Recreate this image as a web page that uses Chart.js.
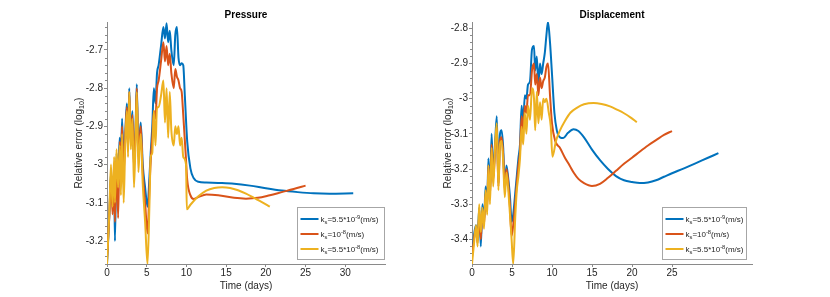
<!DOCTYPE html>
<html>
<head>
<meta charset="utf-8">
<script src="https://cdn.jsdelivr.net/npm/chart.js@4.4.0/dist/chart.umd.min.js"></script>
<style>
  html, body { margin: 0; padding: 0; background: #fff; }
  #wrap { position: relative; width: 830px; height: 297px; }
  canvas { position: absolute; top: 0; }
  #pressure { left: 0; }
  #displacement { left: 415px; }
</style>
</head>
<body>
<div id="wrap">
  <canvas id="pressure" width="415" height="297"></canvas>
  <canvas id="displacement" width="415" height="297"></canvas>
</div>
<script>
// ---- Pressure (left panel) ----
var pressureNoiseTime = [0, 0.3, 0.5, 0.7, 0.9, 1.0, 1.2, 1.4, 1.6, 1.75, 1.9, 2.1, 2.3, 2.5, 2.65, 2.8, 3.0, 3.2, 3.4, 3.6,
    3.75, 3.95, 4.1, 4.25, 4.5, 4.8, 5.1, 5.35, 5.5, 5.7, 5.9, 6.1, 6.3, 6.5, 6.8, 7.1, 7.3, 7.5, 7.7, 7.9,
    8.1, 8.4, 8.6, 8.8, 9.0, 9.2, 9.4, 9.6];

var pressureBlueNoise = [-3.26, -3.13, -3.02, -3.10, -3.04, -3.20, -2.97, -3.03, -2.93, -2.99, -2.88, -3.00, -2.92, -2.84, -2.95, -2.80, -2.93, -2.86, -3.00, -2.90,
    -2.79, -2.97, -2.93, -2.89, -3.00, -3.06, -3.11, -3.03, -2.97, -2.90, -2.80, -2.84, -2.76, -2.74, -2.69, -2.64, -2.67, -2.63, -2.68, -2.65,
    -2.70, -2.74, -2.66, -2.64, -2.72, -2.74, -2.735, -2.74];
var pressureBlueTailTime = [9.8, 10.1, 10.5, 10.9, 11.5, 12.5, 14, 16, 18, 20, 22, 24, 26, 28, 31];
var pressureBlueTail = [-2.82, -2.94, -3.01, -3.035, -3.045, -3.047, -3.048, -3.05, -3.055, -3.062, -3.068, -3.072, -3.075, -3.076, -3.075];

var pressureOrangeNoise = [-3.25, -3.13, -3.03, -3.13, -3.05, -3.15, -2.98, -3.14, -2.94, -3.00, -2.90, -3.02, -2.93, -2.85, -2.96, -2.81, -2.94, -2.87, -3.01, -2.91,
    -2.80, -2.98, -2.94, -2.90, -3.02, -3.10, -3.18, -3.06, -2.99, -2.93, -2.86, -2.88, -2.80, -2.78, -2.73, -2.68, -2.73, -2.69, -2.74, -2.71,
    -2.76, -2.80, -2.75, -2.77, -2.78, -2.80, -2.81, -2.87];
var pressureOrangeTailTime = [9.9, 10.1, 10.5, 10.9, 11.5, 12.5, 14, 16, 17.5, 19, 20.5, 22, 23.5, 25];
var pressureOrangeTail = [-2.97, -3.04, -3.08, -3.09, -3.085, -3.078, -3.08, -3.087, -3.089, -3.087, -3.08, -3.072, -3.064, -3.055];

var pressureYellowNoise = [-3.26, -3.12, -3.00, -3.11, -2.98, -3.10, -2.96, -3.06, -2.95, -3.08, -2.92, -3.10, -2.94, -2.86, -2.98, -2.81, -2.96, -2.88, -3.06, -2.93,
    -2.81, -3.02, -2.96, -2.92, -3.05, -3.15, -3.26, -3.10, -2.98, -2.97, -2.86, -2.95, -2.85, -2.85, -2.82, -2.78, -2.89, -2.80, -2.93, -2.81,
    -2.91, -2.95, -2.90, -2.92, -2.90, -2.95, -2.93, -2.98];
var pressureYellowTailTime = [9.95, 10.05, 10.5, 11.5, 12.5, 13.5, 14.5, 15.5, 16.5, 17.5, 18.5, 19.5, 20.5];
var pressureYellowTail = [-3.0, -3.117, -3.105, -3.083, -3.068, -3.061, -3.059, -3.061, -3.067, -3.076, -3.087, -3.098, -3.11];

var pressureXTicks = [0, 5, 10, 15, 20, 25, 30];
var pressureYTicks = [-3.2, -3.1, -3, -2.9, -2.8, -2.7];

// ---- Displacement (right panel) ----
var dispNoiseTime = [0, 0.3, 0.5, 0.7, 0.9, 1.1, 1.3, 1.5, 1.7, 1.9, 2.05, 2.25, 2.45, 2.65, 2.9, 3.1, 3.3, 3.5, 3.7, 3.9,
    4.1, 4.3, 4.5, 4.75, 4.95, 5.15, 5.4, 5.6, 5.8, 6.0, 6.2, 6.4, 6.6, 6.8, 7.0, 7.25, 7.5, 7.75, 7.9, 8.1,
    8.3, 8.5, 8.7, 8.9, 9.1];

var dispBlueNoise = [-3.44, -3.38, -3.36, -3.40, -3.31, -3.42, -3.30, -3.35, -3.25, -3.30, -3.17, -3.27, -3.10, -3.22, -3.12, -3.05, -3.24, -3.10, -3.09, -3.14,
    -3.25, -3.19, -3.22, -3.28, -3.35, -3.33, -3.27, -3.22, -3.17, -3.13, -3.02, -3.07, -2.99, -3.00, -2.96, -2.95, -2.86, -2.85, -2.92, -2.88,
    -2.96, -2.90, -2.93, -2.90, -2.87];
var dispBlueTailTime = [9.3, 9.5, 9.75, 10.0, 10.3, 10.6, 11.0, 11.4, 12.0, 12.7, 13.3, 14.0, 15.0, 16.0, 17.0, 18.0, 19.0, 20.0, 21.0, 22.0,
    23.0, 24.0, 25.0, 26.5, 28.0, 29.5, 30.8];
var dispBlueTail = [-2.82, -2.782, -2.84, -2.93, -3.04, -3.09, -3.11, -3.112, -3.097, -3.087, -3.092, -3.11, -3.145, -3.175, -3.2, -3.22, -3.232, -3.237, -3.24, -3.238,
    -3.232, -3.222, -3.212, -3.198, -3.183, -3.168, -3.155];

var dispOrangeNoise = [-3.45, -3.39, -3.37, -3.41, -3.33, -3.40, -3.32, -3.36, -3.27, -3.31, -3.19, -3.28, -3.13, -3.23, -3.14, -3.08, -3.25, -3.12, -3.11, -3.16,
    -3.26, -3.20, -3.23, -3.31, -3.39, -3.36, -3.30, -3.24, -3.19, -3.15, -3.05, -3.09, -3.02, -3.04, -2.99, -2.99, -2.92, -2.90, -2.96, -2.93,
    -2.99, -2.94, -2.97, -2.95, -2.94];
var dispOrangeTailTime = [9.3, 9.5, 9.75, 10.0, 10.4, 11.0, 11.6, 12.2, 12.7, 13.3, 14.0, 15.0, 16.0, 17.0, 18.0, 19.0, 20.0, 21.0, 22.0, 23.0, 24.0, 25.0];
var dispOrangeTail = [-2.91, -2.90, -2.99, -3.07, -3.12, -3.14, -3.167, -3.19, -3.21, -3.228, -3.24, -3.248, -3.242, -3.225, -3.205, -3.185, -3.168, -3.15, -3.133, -3.118, -3.103, -3.092];

var dispYellowNoise = [-3.47, -3.40, -3.36, -3.42, -3.30, -3.38, -3.31, -3.37, -3.26, -3.33, -3.19, -3.30, -3.14, -3.25, -3.13, -3.07, -3.26, -3.13, -3.12, -3.18,
    -3.28, -3.21, -3.25, -3.33, -3.40, -3.47, -3.34, -3.26, -3.22, -3.17, -3.08, -3.13, -3.04, -3.10, -3.02, -3.06, -2.97, -3.00, -3.09, -2.98,
    -3.07, -3.01, -3.06, -3.00, -3.01];
var dispYellowTailTime = [9.3, 9.6, 9.85, 10.05, 10.5, 11.0, 11.6, 12.3, 13.1, 14.0, 15.2, 16.2, 17.25, 18.2, 18.9, 19.8, 20.6];
var dispYellowTail = [-3.0, -3.04, -3.08, -3.165, -3.12, -3.09, -3.064, -3.04, -3.026, -3.016, -3.012, -3.015, -3.022, -3.032, -3.04, -3.053, -3.067];

var dispXTicks = [0, 5, 10, 15, 20, 25];
var dispYTicks = [-3.4, -3.3, -3.2, -3.1, -3, -2.9, -2.8];

// ---- styling ----
var fontFamily = "'Liberation Sans', Arial, Helvetica, sans-serif";
var seriesColors = ['#0072BD', '#D95319', '#EDB120'];
var axisColor = '#8a8a8a';
var textColor = '#262626';

var legendRuns = [
    [['k', 'n'], ['s', 'sub'], ['=5.5*10', 'n'], ['-9', 'sup'], ['(m/s)', 'n']],
    [['k', 'n'], ['s', 'sub'], ['=10', 'n'], ['-8', 'sup'], ['(m/s)', 'n']],
    [['k', 'n'], ['s', 'sub'], ['=5.5*10', 'n'], ['-8', 'sup'], ['(m/s)', 'n']]
];
var yTitleRuns = [['Relative error (log', 'n'], ['10', 'sub'], [')', 'n']];

function toPoints(t1, v1, t2, v2) {
    var pts = [];
    for (var i = 0; i < t1.length; i++) pts.push({ x: t1[i], y: v1[i] });
    for (var j = 0; j < t2.length; j++) pts.push({ x: t2[j], y: v2[j] });
    return pts;
}

function runsWidth(ctx, runs, size) {
    var w = 0;
    runs.forEach(function (r) {
        ctx.font = (r[1] === 'n' ? size : size * 0.72) + 'px ' + fontFamily;
        w += ctx.measureText(r[0]).width;
    });
    return w;
}

function drawRuns(ctx, runs, x, y, size) {
    ctx.textBaseline = 'alphabetic';
    ctx.textAlign = 'left';
    var base = y + size * 0.36;
    runs.forEach(function (r) {
        var s = r[1] === 'n' ? size : size * 0.72;
        var dy = r[1] === 'sub' ? size * 0.28 : (r[1] === 'sup' ? -size * 0.42 : 0);
        ctx.font = s + 'px ' + fontFamily;
        ctx.fillText(r[0], x, base + dy);
        x += ctx.measureText(r[0]).width;
    });
}

// titles, y label, minor ticks and the boxed legend, drawn MATLAB style
var matlabDecor = {
    id: 'matlabDecor',
    afterDraw: function (chart, args, opts) {
        var ctx = chart.ctx;
        var area = chart.chartArea;
        var ys = chart.scales.y;
        ctx.save();

        // minor ticks on y
        ctx.strokeStyle = axisColor;
        ctx.lineWidth = 1;
        var start = Math.ceil(ys.min / 0.02 - 1e-6);
        var end = Math.floor(ys.max / 0.02 + 1e-6);
        for (var k = start; k <= end; k++) {
            if (k % 5 === 0) continue;
            var py = Math.round(ys.getPixelForValue(k * 0.02)) + 0.5;
            ctx.beginPath();
            ctx.moveTo(area.left - 2, py);
            ctx.lineTo(area.left, py);
            ctx.stroke();
        }

        // title
        ctx.fillStyle = '#000';
        ctx.font = 'bold 10px ' + fontFamily;
        ctx.textAlign = 'center';
        ctx.textBaseline = 'middle';
        ctx.fillText(opts.title, (area.left + area.right) / 2, 15);

        // x title
        ctx.fillStyle = textColor;
        ctx.font = '10px ' + fontFamily;
        ctx.fillText('Time (days)', (area.left + area.right) / 2, 286);

        // y title
        var w = runsWidth(ctx, yTitleRuns, 10);
        ctx.save();
        ctx.translate(area.left - opts.yTitleOffset, (area.top + area.bottom) / 2);
        ctx.rotate(-Math.PI / 2);
        drawRuns(ctx, yTitleRuns, -w / 2, 0, 10);
        ctx.restore();

        // legend box
        var lg = opts.legend;
        var x0 = area.right - lg.rightGap - lg.width + 0.5;
        var y0 = area.bottom - lg.bottomGap - lg.height + 0.5;
        ctx.fillStyle = '#fff';
        ctx.fillRect(x0, y0, lg.width, lg.height);
        ctx.strokeStyle = '#a6a6a6';
        ctx.strokeRect(x0, y0, lg.width, lg.height);
        for (var i = 0; i < legendRuns.length; i++) {
            var ly = y0 + 11.5 + i * 15;
            ctx.strokeStyle = seriesColors[i];
            ctx.lineWidth = 2;
            ctx.beginPath();
            ctx.moveTo(x0 + 3, ly);
            ctx.lineTo(x0 + 21, ly);
            ctx.stroke();
            ctx.fillStyle = textColor;
            drawRuns(ctx, legendRuns[i], x0 + 23, ly, 8);
        }
        ctx.restore();
    }
};

function buildChart(canvasId, panel) {
    var ctx = document.getElementById(canvasId).getContext('2d');
    var datasets = panel.series.map(function (pts, i) {
        return {
            data: pts,
            borderColor: seriesColors[i],
            backgroundColor: seriesColors[i],
            borderWidth: 2,
            pointRadius: 0,
            fill: false,
            cubicInterpolationMode: 'monotone',
            order: 3 - i
        };
    });

    return new Chart(ctx, {
        type: 'line',
        data: { datasets: datasets },
        options: {
            responsive: false,
            animation: false,
            events: [],
            layout: { padding: { left: 0, right: panel.padRight, top: 22, bottom: 0 } },
            plugins: {
                legend: { display: false },
                tooltip: { enabled: false },
                matlabDecor: {
                    title: panel.title,
                    yTitleOffset: panel.yTitleOffset,
                    legend: panel.legend
                }
            },
            scales: {
                x: {
                    type: 'linear',
                    min: 0,
                    max: 35,
                    afterBuildTicks: function (scale) {
                        scale.ticks = panel.xTicks.map(function (v) { return { value: v }; });
                    },
                    afterFit: function (scale) { scale.height = 33; },
                    ticks: {
                        autoSkip: false,
                        maxRotation: 0,
                        padding: 0,
                        color: textColor,
                        font: { family: fontFamily, size: 10 }
                    },
                    grid: { drawOnChartArea: false, drawTicks: true, tickLength: 3, color: axisColor },
                    border: { display: true, color: axisColor, width: 1 }
                },
                y: {
                    type: 'linear',
                    min: panel.yMin,
                    max: panel.yMax,
                    afterBuildTicks: function (scale) {
                        scale.ticks = panel.yTicks.map(function (v) { return { value: v }; });
                    },
                    afterFit: function (scale) { scale.width = panel.areaLeft; },
                    ticks: {
                        autoSkip: false,
                        padding: 1,
                        color: textColor,
                        font: { family: fontFamily, size: 10 },
                        callback: function (v) { return String(v); }
                    },
                    grid: { drawOnChartArea: false, drawTicks: true, tickLength: 3, color: axisColor },
                    border: { display: true, color: axisColor, width: 1 }
                }
            }
        },
        plugins: [matlabDecor]
    });
}

buildChart('pressure', {
    title: 'Pressure',
    series: [
        toPoints(pressureNoiseTime, pressureBlueNoise, pressureBlueTailTime, pressureBlueTail),
        toPoints(pressureNoiseTime, pressureOrangeNoise, pressureOrangeTailTime, pressureOrangeTail),
        toPoints(pressureNoiseTime, pressureYellowNoise, pressureYellowTailTime, pressureYellowTail)
    ],
    xTicks: pressureXTicks,
    yTicks: pressureYTicks,
    yMin: -3.26,
    yMax: -2.627,
    areaLeft: 107,
    padRight: 30,
    yTitleOffset: 29,
    legend: { width: 87, height: 52, rightGap: 1, bottomGap: 5 }
});

buildChart('displacement', {
    title: 'Displacement',
    series: [
        toPoints(dispNoiseTime, dispBlueNoise, dispBlueTailTime, dispBlueTail),
        toPoints(dispNoiseTime, dispOrangeNoise, dispOrangeTailTime, dispOrangeTail),
        toPoints(dispNoiseTime, dispYellowNoise, dispYellowTailTime, dispYellowTail)
    ],
    xTicks: dispXTicks,
    yTicks: dispYTicks,
    yMin: -3.47,
    yMax: -2.782,
    areaLeft: 57,
    padRight: 78,
    yTitleOffset: 25,
    legend: { width: 84, height: 52, rightGap: 6, bottomGap: 5 }
});
</script>
</body>
</html>
